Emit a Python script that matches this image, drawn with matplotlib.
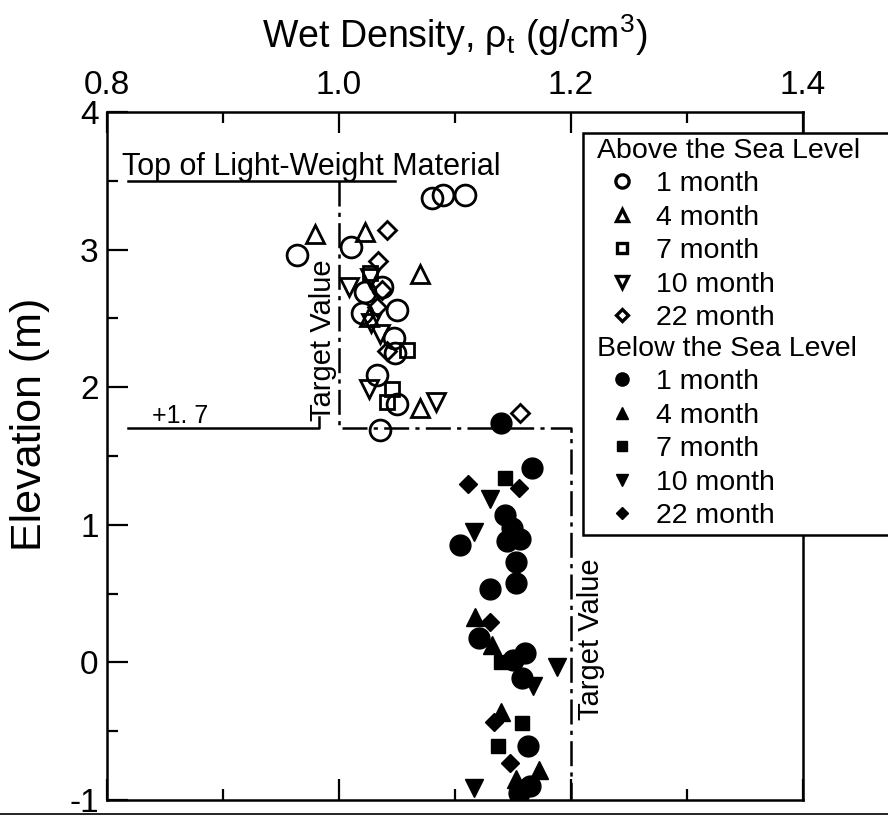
import matplotlib
matplotlib.use('Agg')
import matplotlib.pyplot as plt
from matplotlib.lines import Line2D
from matplotlib.patches import Rectangle
from matplotlib.ticker import MultipleLocator

plt.rcParams['font.family'] = ['Liberation Sans', 'DejaVu Sans']
plt.rcParams['mathtext.fontset'] = 'custom'
plt.rcParams['mathtext.rm'] = 'Liberation Sans'
plt.rcParams['mathtext.it'] = 'Liberation Sans:italic'
plt.rcParams['lines.scale_dashes'] = False

# --- Above the sea level (open markers): wet density (g/cm3), elevation (m)
above_1m_x = [1.080, 1.090, 1.109, 0.964, 1.010, 1.037, 1.022, 1.020, 1.050, 1.047, 1.048, 1.033, 1.050, 1.035]
above_1m_y = [3.375, 3.40, 3.40, 2.96, 3.02, 2.73, 2.69, 2.54, 2.56, 2.36, 2.25, 2.09, 1.88, 1.69]
above_4m_x = [0.979, 1.022, 1.070, 1.026, 1.070]
above_4m_y = [3.11, 3.13, 2.82, 2.51, 1.85]
above_7m_x = [1.027, 1.059, 1.046, 1.041]
above_7m_y = [2.83, 2.27, 1.99, 1.89]
above_10m_x = [1.027, 1.009, 1.028, 1.035, 1.026, 1.084]
above_10m_y = [2.79, 2.73, 2.47, 2.39, 1.99, 1.89]
above_22m_x = [1.041, 1.034, 1.037, 1.033, 1.041, 1.156]
above_22m_y = [3.14, 2.92, 2.71, 2.58, 2.26, 1.81]

# --- Below the sea level (filled markers)
below_1m_x = [1.140, 1.166, 1.143, 1.149, 1.156, 1.145, 1.104, 1.153, 1.153, 1.130, 1.121, 1.160,
              1.150, 1.158, 1.163, 1.165, 1.155]
below_1m_y = [1.74, 1.41, 1.07, 0.98, 0.90, 0.88, 0.85, 0.73, 0.58, 0.53, 0.18, 0.07,
              0.02, -0.11, -0.61, -0.90, -0.95]
below_4m_x = [1.117, 1.132, 1.140, 1.172, 1.153]
below_4m_y = [0.33, 0.13, -0.36, -0.78, -0.85]
below_7m_x = [1.143, 1.140, 1.158, 1.137]
below_7m_y = [1.34, 0.00, -0.44, -0.61]
below_10m_x = [1.130, 1.116, 1.188, 1.167, 1.116]
below_10m_y = [1.19, 0.95, -0.03, -0.17, -0.91]
below_22m_x = [1.111, 1.155, 1.130, 1.134, 1.147]
below_22m_y = [1.30, 1.27, 0.29, -0.43, -0.73]

# target value step line and reference levels
target_x = [1.0, 1.0, 1.2, 1.2]
target_y = [3.5, 1.7, 1.7, -1.0]
top_material_x = [0.818, 1.048]
top_material_y = [3.5, 3.5]
sea_level_x = [0.818, 0.983, 0.983]
sea_level_y = [1.7, 1.7, 1.78]

months = ['1 month', '4 month', '7 month', '10 month', '22 month']
markers = ['o', '^', 's', 'v', 'D']
sizes = [15, 12.5, 9.5, 12.5, 9]
leg_sizes = [9.5, 8.5, 7, 8.5, 6.5]

fig = plt.figure(figsize=(8.88, 8.19), dpi=100)
ax = fig.add_axes([107 / 888, 1 - 800 / 819, 696 / 888, 688 / 819])
ax.set_xlim(0.8, 1.4)
ax.set_ylim(-1, 4)

above = [(above_1m_x, above_1m_y), (above_4m_x, above_4m_y), (above_7m_x, above_7m_y),
         (above_10m_x, above_10m_y), (above_22m_x, above_22m_y)]
below = [(below_1m_x, below_1m_y), (below_4m_x, below_4m_y), (below_7m_x, below_7m_y),
         (below_10m_x, below_10m_y), (below_22m_x, below_22m_y)]

# reference lines
ax.plot(target_x, target_y, color='k', lw=1.8, ls=(0, (18, 4.5, 3, 4.5)))
ax.plot(top_material_x, top_material_y, color='k', lw=1.8)
ax.plot(sea_level_x, sea_level_y, color='k', lw=1.8)

for (x, y), m, s in zip(above, markers, sizes):
    ax.plot(x, y, ls='none', marker=m, ms=s, mfc='none', mec='k', mew=2.0)
for (x, y), m, s in zip(below, markers, sizes):
    ax.plot(x, y, ls='none', marker=m, ms=s, mfc='k', mec='k', mew=1.0)

# annotations
ax.text(0.813, 3.545, 'Top of Light-Weight Material', fontsize=22, ha='left', va='baseline')
ax.text(0.839, 1.74, '+1. 7', fontsize=18, ha='left', va='baseline')
ax.text(0.986, 2.34, 'Target Value', fontsize=21, rotation=90, ha='center', va='center')
ax.text(1.217, 0.17, 'Target Value', fontsize=21, rotation=90, ha='center', va='center')

# axes styling
for sp in ax.spines.values():
    sp.set_linewidth(1.8)
ax.xaxis.set_major_locator(MultipleLocator(0.2))
ax.xaxis.set_minor_locator(MultipleLocator(0.1))
ax.yaxis.set_major_locator(MultipleLocator(1))
ax.yaxis.set_minor_locator(MultipleLocator(0.5))
ax.tick_params(axis='x', which='both', direction='in', top=True, bottom=True,
               labeltop=True, labelbottom=False, width=1.6)
ax.tick_params(axis='y', which='both', direction='in', left=True, right=False, width=1.6)
ax.tick_params(which='major', length=15, labelsize=24)
ax.tick_params(which='minor', length=8)
ax.tick_params(axis='x', pad=8)
ax.tick_params(axis='y', pad=6)
ax.set_xticklabels(['%.1f' % v for v in ax.get_xticks()])
ax.set_yticklabels(['%d' % v for v in ax.get_yticks()])

fig.text(455 / 888, 1 - 35 / 819, r'Wet Density, ρ$_\mathrm{t}$ (g/cm$^3$)',
         fontsize=27, ha='center', va='center')
fig.text(30 / 888, 1 - 424 / 819, 'Elevation (m)', fontsize=31, rotation=90,
         ha='center', va='center')

# legend
frame = Rectangle((583 / 888, 1 - 535 / 819), (900 - 583) / 888, (535 - 133) / 819,
                  transform=fig.transFigure, facecolor='white', edgecolor='k', lw=1.8,
                  zorder=3)
fig.add_artist(frame)

h_above = [Line2D([], [], ls='none', marker=m, ms=s, mfc='none', mec='k', mew=2.4)
           for m, s in zip(markers, leg_sizes)]
h_below = [Line2D([], [], ls='none', marker=m, ms=s, mfc='k', mec='k', mew=1.0)
           for m, s in zip(markers, leg_sizes)]

common = dict(loc='upper left', bbox_transform=fig.transFigure, frameon=False,
              borderpad=0, borderaxespad=0, fontsize=20.5, title_fontsize=20.5,
              alignment='left', handlelength=1.75, handletextpad=0.33, labelspacing=0.26)
leg1 = fig.legend(h_above, months, title='Above the Sea Level',
                  bbox_to_anchor=(597 / 888, 1 - 138 / 819), **common)
leg2 = fig.legend(h_below, months, title='Below the Sea Level',
                  bbox_to_anchor=(597 / 888, 1 - 336 / 819), **common)
leg1.set_zorder(5)
leg2.set_zorder(5)

# scan border line at the bottom
fig.add_artist(Line2D([0, 1], [1 - 814 / 819, 1 - 814 / 819], transform=fig.transFigure,
                      color='k', lw=1.2))

fig.savefig('out.png', dpi=100)
